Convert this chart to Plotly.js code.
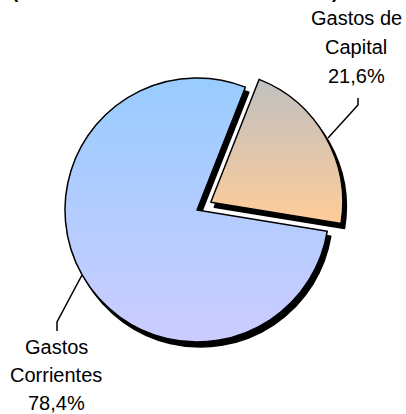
<!DOCTYPE html>
<html>
<head>
<meta charset="utf-8">
<script src="https://cdn.plot.ly/plotly-3.0.1.min.js"></script>
<style>
html,body{margin:0;padding:0;background:#fff;}
#chart{width:406px;height:414px;}
</style>
</head>
<body>
<svg width="0" height="0" style="position:absolute">
  <defs>
    <linearGradient id="gCap" x1="0" y1="0" x2="0" y2="1">
      <stop offset="0" stop-color="#C0C0C0"/>
      <stop offset="1" stop-color="#FFCC99"/>
    </linearGradient>
    <linearGradient id="gCor" x1="0" y1="0" x2="0" y2="1">
      <stop offset="0" stop-color="#99CCFF"/>
      <stop offset="1" stop-color="#CCCCFF"/>
    </linearGradient>
  </defs>
</svg>
<div id="chart"></div>
<script>
// ---- data ----
const categories = ['Gastos de Capital', 'Gastos Corrientes'];
const shares = [21.6, 78.4];
const labelLines = [['Gastos de', 'Capital', '21,6%'], ['Gastos', 'Corrientes', '78,4%']];
const titleText = '(En millones de soles del total 2005)';

const W = 406, H = 414;
const px = (x) => x / W;
const py = (y) => 1 - y / H;

const pull = [0.12, 0];
const rot = 21.5;

function dom(cx, cy, size) {
  return { x: [px(cx - size / 2), px(cx + size / 2)], y: [py(cy + size / 2), py(cy - size / 2)] };
}
const size = 295.7;

const shadow = {
  type: 'pie', values: shares, labels: categories, sort: false, direction: 'clockwise',
  rotation: rot, pull: pull, textinfo: 'none', hoverinfo: 'skip',
  marker: { colors: ['#000000', '#000000'], line: { color: '#000000', width: 1.5 } },
  domain: dom(200.5, 215, size), showlegend: false
};
const main = {
  type: 'pie', values: shares, labels: categories, sort: false, direction: 'clockwise',
  rotation: rot, pull: pull, textinfo: 'none', hoverinfo: 'label+percent',
  marker: { colors: ['#E0C8B0', '#B3CCFF'], line: { color: '#000000', width: 1.5 } },
  domain: dom(197, 210, size), showlegend: false
};

const annotations = [];
const labelPos = [{ x: 356, y: [18.5, 47, 75.5] }, { x: 56, y: [347, 375, 403] }];
labelLines.forEach((lines, i) => {
  lines.forEach((t, j) => {
    annotations.push({
      text: t, xref: 'paper', yref: 'paper', x: px(labelPos[i].x), y: py(labelPos[i].y[j]),
      xanchor: 'center', yanchor: 'middle', showarrow: false,
      font: { family: 'Liberation Sans, Arial, sans-serif', size: 20, color: '#000' }
    });
  });
});
annotations.push({
  text: titleText, xref: 'paper', yref: 'paper', x: px(175), y: 1, xanchor: 'center', yanchor: 'bottom',
  yshift: -4.5, showarrow: false,
  font: { family: 'Liberation Sans, Arial, sans-serif', size: 19, color: '#000', weight: 'bold' }
});

function pathOf(pts) {
  return pts.map((p, k) => (k ? 'L' : 'M') + px(p[0]) + ',' + py(p[1])).join(' ');
}
const shapes = [
  { type: 'path', xref: 'paper', yref: 'paper', path: pathOf([[358, 98], [358, 105], [328, 138]]), line: { color: '#000', width: 1.5 } },
  { type: 'path', xref: 'paper', yref: 'paper', path: pathOf([[57, 331], [57, 322], [82, 275]]), line: { color: '#000', width: 1.5 } }
];

const layout = {
  width: W, height: H, margin: { l: 0, r: 0, t: 0, b: 0 },
  paper_bgcolor: '#fff', plot_bgcolor: '#fff', showlegend: false,
  annotations: annotations, shapes: shapes
};

Plotly.newPlot('chart', [shadow, main], layout, { displayModeBar: false, staticPlot: true }).then(() => {
  const traces = document.querySelectorAll('#chart .pielayer .trace');
  const mainTrace = traces[traces.length - 1];
  const paths = mainTrace.querySelectorAll('.slice path.surface');
  const grads = ['url(#gCap)', 'url(#gCor)'];
  paths.forEach((p, i) => { p.style.fill = grads[i]; });
});
</script>
</body>
</html>
